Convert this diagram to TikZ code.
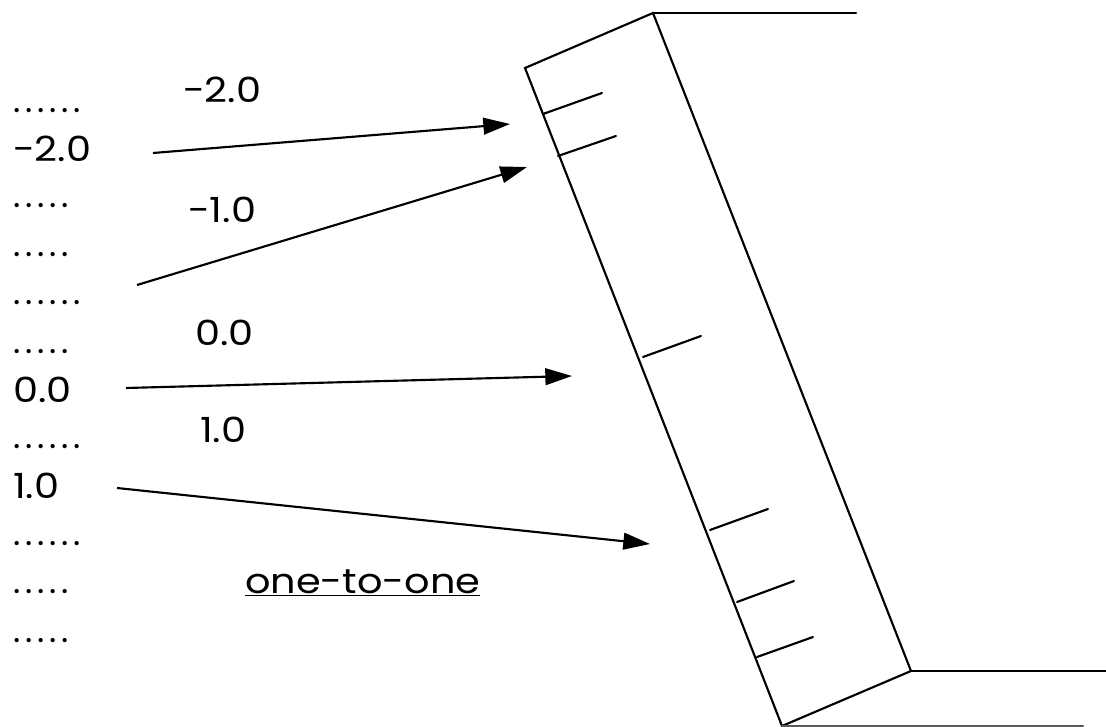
\documentclass[tikz,border=0pt]{standalone}
\usepackage{fontspec}
\setmainfont{Poppins}[FakeStretch=1.15]
\newfontfamily\dotfont{Poppins}[LetterSpace=14]
\usetikzlibrary{arrows.meta}
\begin{document}
\begin{tikzpicture}[x=0.75pt,y=-0.75pt,
  every node/.style={inner sep=0pt,outer sep=0pt,anchor=base west,font=\fontsize{26pt}{30pt}\selectfont},
  dots/.style={font=\dotfont\fontsize{26pt}{30pt}\selectfont},
  edge/.style={line width=1.6pt,line cap=round},
  map/.style={line width=1.6pt,-{Triangle[length=20pt,width=12.5pt]}}]
\useasboundingbox (0,0) rectangle (1106,727);
% left column of values
\node[dots] (l1)  at (13,113) {......};
\node (l2)  at (13,162) {-2.0};
\node[dots] (l3)  at (13,208) {.....};
\node[dots] (l4)  at (13,257) {.....};
\node[dots] (l5)  at (13,305) {......};
\node[dots] (l6)  at (13,353) {.....};
\node (l7)  at (13,402) {0.0};
\node[dots] (l8)  at (13,448) {......};
\node (l9)  at (13,498) {1.0};
\node[dots] (l10) at (13,545) {......};
\node[dots] (l11) at (13,593) {.....};
\node[dots] (l12) at (13,642) {.....};
% labels above the arrows
\node (m1) at (183,103) {-2.0};
\node (m2) at (188,223) {-1.0};
\node (m3) at (195,345) {0.0};
\node (m4) at (200,442) {1.0};
\node (oto) at (245,593) {\underline{one-to-one}};
% tilted scale
\coordinate (tl) at (525,68);
\coordinate (tr) at (653,13);
\coordinate (br) at (911,671);
\coordinate (bl) at (782,726);
\draw[edge] (tl) -- (tr) -- (br) -- (bl) -- cycle;
\coordinate (topend) at (856,13);
\coordinate (midend) at (1106,671);
\coordinate (botend) at (1083,726);
\draw[edge] (tr) -- (topend);
\draw[edge] (br) -- (midend);
\draw[edge,draw=black!65] (bl) -- (botend);
% tick marks
\foreach \a/\b/\c/\d [count=\i] in {543/114/602/93, 558/156/616/136, 643/357/701/336, 710/530/768/509, 737/602/794/581, 757/657/813/637}{
  \coordinate (ts\i) at (\a,\b);
  \coordinate (te\i) at (\c,\d);
  \draw[edge] (ts\i) -- (te\i);
}
% mapping arrows
\coordinate (a1s) at (153,153); \coordinate (a1e) at (510,124);
\coordinate (a2s) at (137,285); \coordinate (a2e) at (527,167);
\coordinate (a3s) at (126,388); \coordinate (a3e) at (572,376);
\coordinate (a4s) at (117,488); \coordinate (a4e) at (650,544);
\draw[map] (a1s) -- (a1e);
\draw[map] (a2s) -- (a2e);
\draw[map] (a3s) -- (a3e);
\draw[map] (a4s) -- (a4e);
\end{tikzpicture}
\end{document}
